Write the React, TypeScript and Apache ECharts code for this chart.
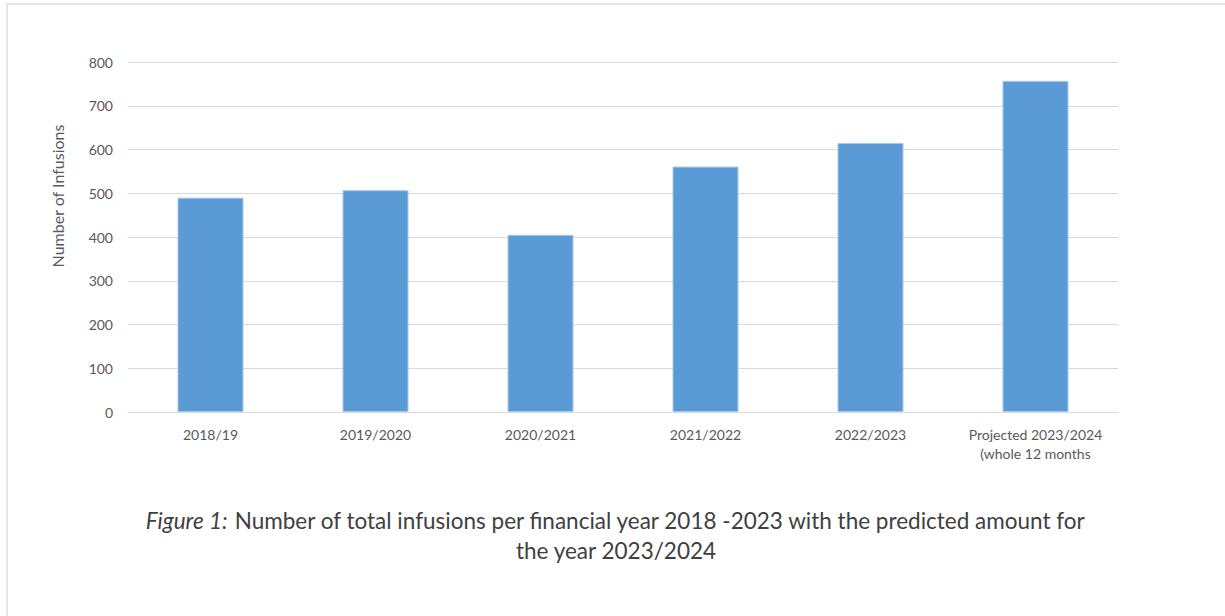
import React, { useEffect, useRef } from "react";
import * as echarts from "echarts";

const categories = [
  "2018/19",
  "2019/2020",
  "2020/2021",
  "2021/2022",
  "2022/2023",
  "Projected 2023/2024\n(whole 12 months",
];
const infusions = [490, 507, 405, 561, 615, 757];
const yTicks = { min: 0, max: 800, interval: 100 };
const yAxisTitle = "Number of Infusions";
const captionItalic = "Figure 1:";
const captionLine1 = " Number of total infusions per financial year 2018 -2023 with the predicted amount for";
const captionLine2 = "the year 2023/2024";

export default function App() {
  const ref = useRef<HTMLDivElement>(null);
  useEffect(() => {
    if (!ref.current) return;
    const chart = echarts.init(ref.current, null, { renderer: "svg" });
    const font = "Lato";
    chart.setOption({
      animation: false,
      backgroundColor: "#ffffff",
      grid: { left: 128, right: 107, top: 62, bottom: 204, containLabel: false },
      xAxis: {
        type: "category",
        data: categories,
        axisLine: { lineStyle: { color: "#d9d9d9", width: 1 } },
        axisTick: { show: false },
        axisLabel: {
          color: "#595959",
          fontFamily: font,
          fontSize: 14,
          lineHeight: 19,
          margin: 13,
          interval: 0,
        },
      },
      yAxis: {
        type: "value",
        min: yTicks.min,
        max: yTicks.max,
        interval: yTicks.interval,
        axisLine: { show: false },
        axisTick: { show: false },
        splitLine: { lineStyle: { color: "#d9d9d9", width: 1 } },
        axisLabel: { color: "#595959", fontFamily: font, fontSize: 14, margin: 15 },
      },
      series: [
        {
          type: "bar",
          data: infusions,
          barWidth: "40%",
          itemStyle: { color: "#5b9bd5", borderColor: "#a8c8ea", borderWidth: 1 },
        },
      ],
      graphic: [
        {
          type: "text",
          x: 57,
          y: 196,
          rotation: Math.PI / 2,
          style: {
            text: yAxisTitle,
            fontFamily: font,
            fontSize: 16,
            fill: "#595959",
            align: "center",
            verticalAlign: "middle",
          },
        },
        {
          type: "text",
          x: 616,
          y: 505,
          style: {
            text: `{i|${captionItalic}}{n|${captionLine1}}\n{n|${captionLine2}}`,
            align: "center",
            verticalAlign: "top",
            rich: {
              i: { fontFamily: font, fontStyle: "italic", fontWeight: "normal", fontSize: 22.5, fill: "#404040", lineHeight: 30 },
              n: { fontFamily: font, fontWeight: "normal", fontSize: 22.5, fill: "#404040", lineHeight: 30 },
            },
          },
        },
        { type: "line", shape: { x1: 6, y1: 4, x2: 1225, y2: 4 }, style: { stroke: "#e6e6e6", lineWidth: 2 } },
        { type: "line", shape: { x1: 7, y1: 4, x2: 7, y2: 616 }, style: { stroke: "#e6e6e6", lineWidth: 2 } },
      ],
    });
    return () => chart.dispose();
  }, []);
  return (
    <div
      ref={ref}
      style={{ position: "fixed", left: 0, top: 0, width: 1225, height: 616 }}
    />
  );
}
